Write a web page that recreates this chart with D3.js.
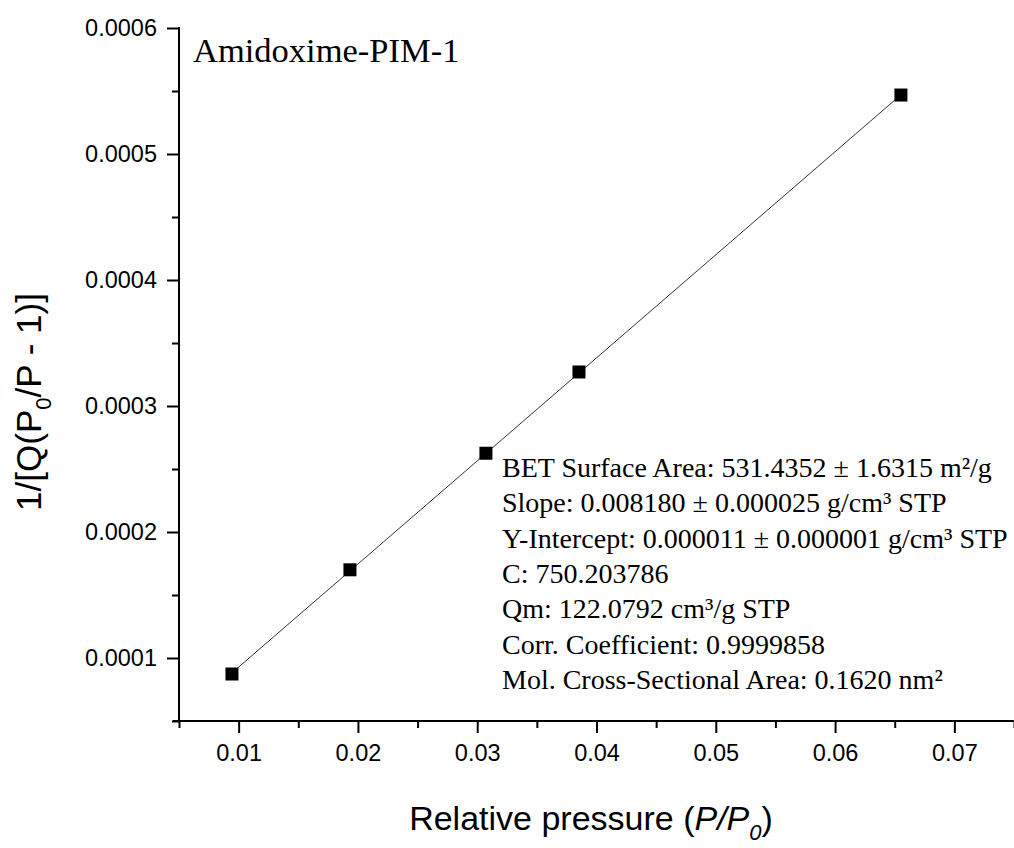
<!DOCTYPE html>
<html>
<head>
<meta charset="utf-8">
<script src="https://cdn.jsdelivr.net/npm/d3@7"></script>
<style>
  body { margin: 0; background: #fff; }
  svg { display: block; }
</style>
</head>
<body>
<div id="chart"></div>
<script>
// BET plot data
const pressure = [0.00944, 0.01933, 0.03073, 0.03853, 0.06552];
const betValue = [0.0000873, 0.0001700, 0.0002625, 0.0003270, 0.0005468];

// reported fit
const slope = 0.008180;
const intercept = 0.000011;

const xTicks = [0.01, 0.02, 0.03, 0.04, 0.05, 0.06, 0.07];
const xMinor = [0.005, 0.015, 0.025, 0.035, 0.045, 0.055, 0.065, 0.075];
const yTicks = [0.0001, 0.0002, 0.0003, 0.0004, 0.0005, 0.0006];
const yMinor = [0.00005, 0.00015, 0.00025, 0.00035, 0.00045, 0.00055];

const infoLines = [
  "BET Surface Area: 531.4352 \u00B1 1.6315 m\u00B2/g",
  "Slope: 0.008180 \u00B1 0.000025 g/cm\u00B3 STP",
  "Y-Intercept: 0.000011 \u00B1 0.000001 g/cm\u00B3 STP",
  "C: 750.203786",
  "Qm: 122.0792 cm\u00B3/g STP",
  "Corr. Coefficient: 0.9999858",
  "Mol. Cross-Sectional Area: 0.1620 nm\u00B2"
];

const W = 1014, H = 848;
const sans = "'Liberation Sans', Arial, sans-serif";
const serif = "'Liberation Serif', 'Times New Roman', serif";

const svg = d3.select("#chart").append("svg")
    .attr("width", W)
    .attr("height", H);

const x = d3.scaleLinear().domain([0.005, 0.075]).range([179, 1014]);
const y = d3.scaleLinear().domain([0.00005, 0.0006]).range([721, 28]);

// minor ticks
svg.append("g")
    .attr("transform", "translate(0,721)")
    .call(d3.axisBottom(x).tickValues(xMinor).tickSize(7).tickFormat(""))
    .call(g => g.select(".domain").remove());
svg.append("g")
    .attr("transform", "translate(179,0)")
    .call(d3.axisLeft(y).tickValues(yMinor).tickSize(7).tickFormat(""))
    .call(g => g.select(".domain").remove());

// major ticks + labels
const xAxis = svg.append("g")
    .attr("transform", "translate(0,721)")
    .call(d3.axisBottom(x).tickValues(xTicks).tickSize(12).tickPadding(11).tickFormat(d3.format(".2f")));
xAxis.select(".domain").remove();

const yAxis = svg.append("g")
    .attr("transform", "translate(179,0)")
    .call(d3.axisLeft(y).tickValues(yTicks).tickSize(12).tickPadding(10).tickFormat(d3.format(".4f")));
yAxis.select(".domain").remove();

svg.selectAll(".tick line").attr("stroke", "#000").attr("stroke-width", 2);
svg.selectAll(".tick text")
    .style("font-family", sans)
    .style("font-size", "23.5px")
    .attr("fill", "#000");

// axis lines
svg.append("line")
    .attr("x1", 173).attr("x2", 1014)
    .attr("y1", 721).attr("y2", 721)
    .attr("stroke", "#000").attr("stroke-width", 2);
svg.append("line")
    .attr("x1", 179).attr("x2", 179)
    .attr("y1", 27).attr("y2", 722)
    .attr("stroke", "#000").attr("stroke-width", 2);

// fit line
const xr = d3.extent(pressure);
svg.append("line")
    .attr("x1", x(xr[0])).attr("y1", y(slope * xr[0] + intercept))
    .attr("x2", x(xr[1])).attr("y2", y(slope * xr[1] + intercept))
    .attr("stroke", "#333")
    .attr("stroke-width", 1);

// points
const sz = 13;
svg.selectAll(".pt")
    .data(pressure)
    .join("rect")
    .attr("class", "pt")
    .attr("x", d => x(d) - sz / 2)
    .attr("y", (d, i) => y(betValue[i]) - sz / 2)
    .attr("width", sz)
    .attr("height", sz)
    .attr("fill", "#000");

// title
svg.append("text")
    .attr("x", 193)
    .attr("y", 62)
    .style("font-family", serif)
    .style("font-size", "34.5px")
    .text("Amidoxime-PIM-1");

// info box
svg.append("g")
    .selectAll("text")
    .data(infoLines)
    .join("text")
    .attr("x", 502)
    .attr("y", (d, i) => 477 + i * 35.3)
    .style("font-family", serif)
    .style("font-size", "28px")
    .text(d => d);

// x label
const xl = svg.append("text")
    .attr("x", 591)
    .attr("y", 830)
    .attr("text-anchor", "middle")
    .style("font-family", sans)
    .style("font-size", "34px");
xl.append("tspan").text("Relative pressure (");
xl.append("tspan").style("font-style", "italic").text("P/P");
xl.append("tspan").style("font-style", "italic").style("font-size", "22px").attr("dy", 10).text("0");
xl.append("tspan").attr("dy", -10).text(")");

// y label
const yl = svg.append("text")
    .attr("transform", "translate(41,402) rotate(-90)")
    .attr("text-anchor", "middle")
    .style("font-family", sans)
    .style("font-size", "35px");
yl.append("tspan").text("1/[Q(P");
yl.append("tspan").style("font-size", "22px").attr("dy", 10).text("0");
yl.append("tspan").attr("dy", -10).text("/P - 1)]");
</script>
</body>
</html>
